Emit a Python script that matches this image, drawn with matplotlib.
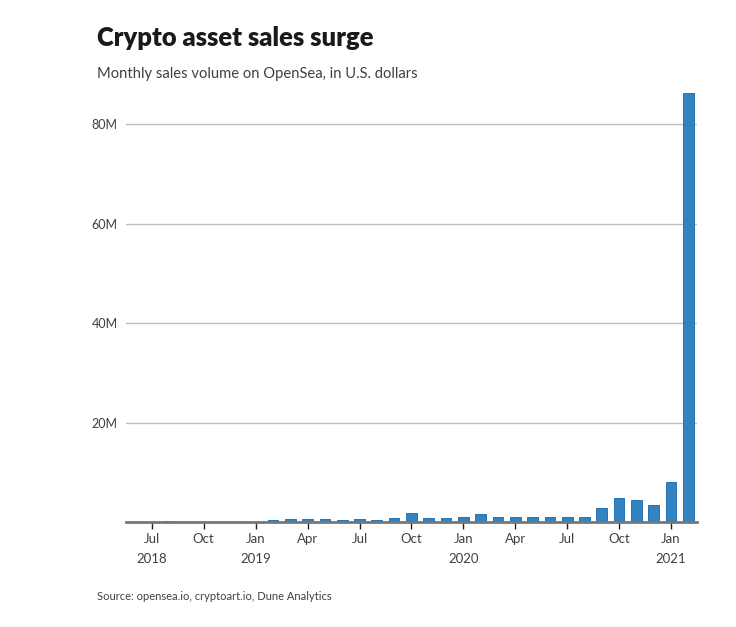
import matplotlib
matplotlib.use("Agg")
import matplotlib.pyplot as plt
from matplotlib.ticker import FuncFormatter
import datetime as dt

plt.rcParams['font.family'] = ['Lato', 'DejaVu Sans']

# monthly OpenSea sales volume, millions of USD
months = ["2018-06", "2018-07", "2018-08", "2018-09", "2018-10", "2018-11",
          "2018-12", "2019-01", "2019-02", "2019-03", "2019-04", "2019-05",
          "2019-06", "2019-07", "2019-08", "2019-09", "2019-10", "2019-11",
          "2019-12", "2020-01", "2020-02", "2020-03", "2020-04", "2020-05",
          "2020-06", "2020-07", "2020-08", "2020-09", "2020-10", "2020-11",
          "2020-12", "2021-01", "2021-02"]
volume = [0.02, 0.03, 0.1, 0.03, 0.03, 0.03,
          0.08, 0.08, 0.3, 0.55, 0.55, 0.55,
          0.35, 0.5, 0.35, 0.75, 1.8, 0.75,
          0.75, 0.95, 1.6, 0.95, 0.95, 0.95,
          0.95, 0.95, 0.95, 2.75, 4.75, 4.35,
          3.35, 8.0, 86.3]
yticks = [20, 40, 60, 80]

dates = [dt.datetime.strptime(m, "%Y-%m") for m in months]
x = list(range(len(months)))

fig = plt.figure(figsize=(7.36, 6.27), dpi=100)
ax = fig.add_axes([0.171, 0.1675, 0.776, 0.684])

ax.bar(x, volume, width=0.62, color='#3383c1', edgecolor='#2573b5', linewidth=0.7, zorder=3)

ax.set_xlim(-0.5, len(months) - 0.5)
ax.set_ylim(0, max(volume))

ax.set_yticks(yticks)
ax.yaxis.set_major_formatter(FuncFormatter(lambda v, p: "%dM" % v))
ax.yaxis.grid(True, color='#bdbdbd', linewidth=1, zorder=0)
ax.tick_params(axis='y', length=0, pad=6, labelsize=9, labelcolor='#404040')

# quarterly ticks
tick_pos = []
tick_lab = []
for i, d in enumerate(dates):
    if d.month in (1, 4, 7, 10):
        lab = d.strftime("%b")
        if d.month == 1 or len(tick_pos) == 0:
            lab += "\n" + str(d.year)
        tick_pos.append(i)
        tick_lab.append(lab)
ax.set_xticks(tick_pos)
ax.set_xticklabels(tick_lab, linespacing=1.75)
ax.tick_params(axis='x', length=5, width=1, color='#222222', pad=3,
               labelsize=9.5, labelcolor='#404040')

for s in ['top', 'right', 'left']:
    ax.spines[s].set_visible(False)
ax.spines['bottom'].set_color('#777777')
ax.spines['bottom'].set_linewidth(2)
ax.spines['bottom'].set_zorder(4)

fig.text(0.132, 0.939, "Crypto asset sales surge", fontsize=18.4, fontweight='heavy',
         color='#1a1a1a', va='center')
fig.text(0.132, 0.882, "Monthly sales volume on OpenSea, in U.S. dollars", fontsize=10.6,
         color='#404040', va='center')
fig.text(0.132, 0.048, "Source: opensea.io, cryptoart.io, Dune Analytics", fontsize=8,
         color='#404040', va='center')

plt.savefig("out.png", dpi=100)
